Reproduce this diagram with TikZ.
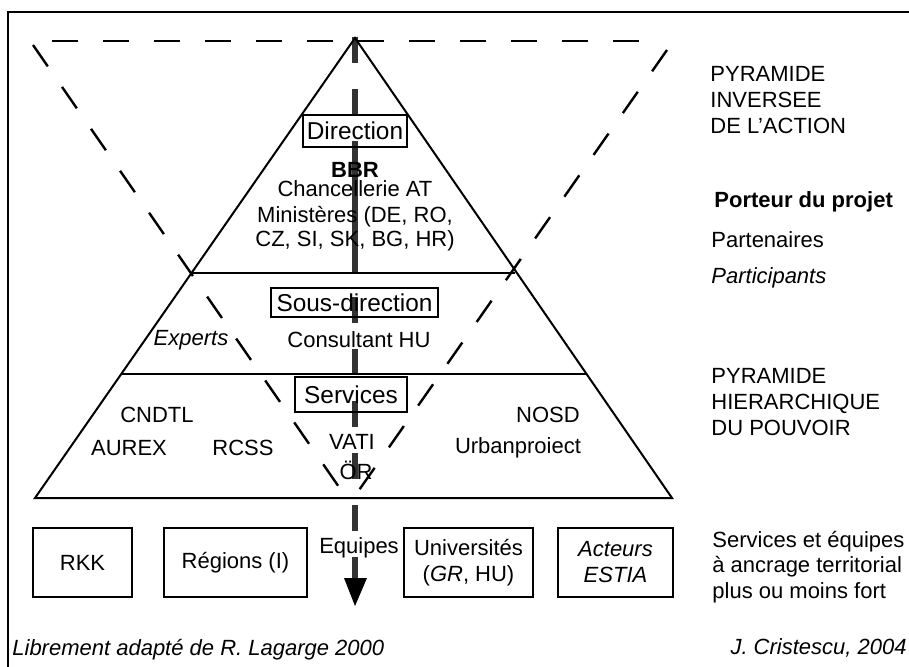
\documentclass[tikz,border=0pt]{standalone}
\usepackage{fontspec}
\setmainfont{Liberation Sans}
\usetikzlibrary{arrows.meta}
\begin{document}
\begin{tikzpicture}[x=0.5pt,y=-0.5pt,
  every node/.style={inner sep=0pt, font=\fontsize{11}{13}\selectfont},
  solidline/.style={line width=1pt, black},
  dashline/.style={line width=1.2pt, black, dash pattern=on 13pt off 12.5pt},
  frameline/.style={line width=1pt, black},
  labelbox/.style={draw, line width=0.9pt, minimum height=16pt, font=\fontsize{12.2}{14}\selectfont},
  basebox/.style={draw, line width=1pt, minimum height=34.5pt, align=center, font=\fontsize{11}{13}\selectfont},
  sidetext/.style={anchor=west, align=left, font=\fontsize{11}{13.2}\selectfont},
  shaft/.style={line width=2.6pt, black!80, dash pattern=on 13pt off 13pt}]
\useasboundingbox (0,0) rectangle (909,667);
% frame
\coordinate (fr1) at (8,667);
\coordinate (fr2) at (8,12);
\coordinate (fr3) at (909,12);
\draw[frameline] (fr1) -- (fr2) -- (fr3);

% vertical arrow (drawn first, behind)
\coordinate (arrtop) at (355,37);
\coordinate (arrend) at (355,583);
\coordinate (arrtip) at (355,606);
\coordinate (solidA) at (355,141);
\coordinate (solidB) at (355,272);
\draw[shaft] (arrtop) -- (arrend);
\draw[line width=2.6pt, black!80] (solidA) -- (solidB);
\fill[black] (344,578) coordinate (ahl) -- (367,578) coordinate (ahr) -- (arrtip) -- cycle;

% inverted dashed pyramid
\coordinate (itl) at (33,45);
\coordinate (itr) at (667,50);
\coordinate (ibot) at (350,503);
\coordinate (itopA) at (52,41);
\coordinate (itopB) at (660,41);
\draw[dashline] (itopA) -- (itopB);
\draw[dashline] (itl) -- (ibot);
\draw[dashline] (itr) -- (ibot);

% solid pyramid
\coordinate (apex) at (355,38);
\coordinate (bl) at (35,498);
\coordinate (br) at (672,498);
\draw[solidline, line join=miter] (bl) -- (apex) -- (br) -- cycle;
\coordinate (d1l) at (191,273);
\coordinate (d1r) at (515,273);
\coordinate (d2l) at (121,374);
\coordinate (d2r) at (586,374);
\draw[solidline] (d1l) -- (d1r);
\draw[solidline] (d2l) -- (d2r);

% level boxes
\node[labelbox, minimum width=52pt] (direction) at (355,131) {Direction};
\node[labelbox, minimum width=83.5pt, minimum height=14.5pt] (sousdir) at (354.5,302.5) {Sous-direction};
\node[labelbox, minimum width=56pt, minimum height=17.5pt] (services) at (351,394.5) {Services};

% top level text
\node[font=\fontsize{11}{13}\selectfont\bfseries] (bbr) at (355,170) {BBR};
\node (chanc) at (355,189) {Chancellerie AT};
\node[align=center, font=\fontsize{11}{12}\selectfont] (minist) at (355,229) {Minist\`eres (DE, RO,\\CZ, SI, SK, BG, HR)};

% middle level
\node[font=\fontsize{11}{13}\selectfont\itshape] (experts) at (191,340) {Experts};
\node (consult) at (359,340) {Consultant HU};

% bottom level
\node (cndtl) at (157,415) {CNDTL};
\node (aurex) at (129,448) {AUREX};
\node (rcss) at (243,448) {RCSS};
\node (vati) at (352,442) {VATI};
\node (oer) at (356,470) {\"OR};
\node (nosd) at (548,415) {NOSD};
\node (urban) at (518,448) {Urbanproiect};

% base boxes
\node[basebox, minimum width=49.5pt] (rkk) at (82.5,562.5) {RKK};
\node[basebox, minimum width=71.5pt] (regions) at (235.5,562.5) {R\'egions (I)};
\node (equipes) at (359,548) {Equipes};
\node[basebox, minimum width=64.5pt] (univ) at (468.5,562.5) {Universit\'es\\(\textit{GR}, HU)};
\node[basebox, minimum width=57.5pt, font=\fontsize{11}{13}\selectfont\itshape] (acteurs) at (615.5,562.5) {Acteurs\\ESTIA};

% right side texts
\node[sidetext] (pinv) at (710,100) {PYRAMIDE\\INVERSEE\\DE L'ACTION};
\node[sidetext, font=\fontsize{11}{13}\selectfont\bfseries] (porteur) at (714,202) {Porteur du projet};
\node[sidetext] (partenaires) at (711,240) {Partenaires};
\node[sidetext, font=\fontsize{11}{13}\selectfont\itshape] (particip) at (711,278) {Participants};
\node[sidetext] (phier) at (711,402) {PYRAMIDE\\HIERARCHIQUE\\DU POUVOIR};
\node[sidetext, font=\fontsize{11}{12.6}\selectfont] (servterr) at (712,567) {Services et \'equipes\\\`a ancrage territorial\\plus ou moins fort};

% footers
\node[anchor=west, font=\fontsize{11}{13}\selectfont\itshape] (lib) at (12,650) {Librement adapt\'e de R. Lagarge 2000};
\node[anchor=east, font=\fontsize{11}{13}\selectfont\itshape] (crist) at (907,648) {J. Cristescu, 2004};
\end{tikzpicture}
\end{document}
